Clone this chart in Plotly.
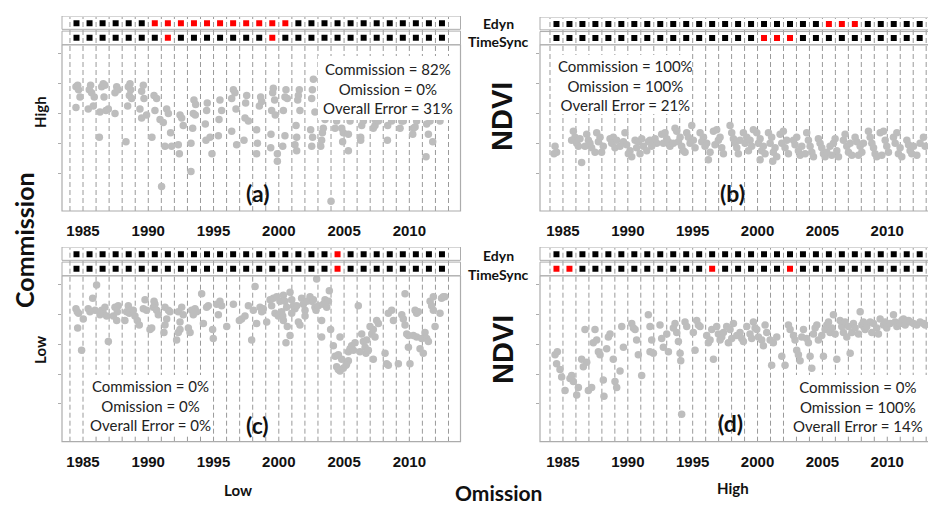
import plotly.graph_objects as go

# ---------------- data ----------------
YEARS = list(range(1984, 2014))          # year boundaries (dashed lines)
STRIP_YEARS = list(range(1984, 2013))    # annual detection boxes
TICK_YEARS = [1985, 1990, 1995, 2000, 2005, 2010]
NDVI_TICKS = [0.0, 0.2, 0.4, 0.6, 0.8]

A_YEAR = [1984.46,1984.59,1984.66,1984.77,1984.46,1985.58,1985.48,1985.66,1985.86,1985.40,1985.79,1986.25,1986.55,1986.43,1986.68,1986.61,1986.30,1986.76,1986.94,1987.58,1987.45,1987.70,1987.45,1988.60,1988.47,1988.65,1988.55,1988.73,1988.42,1988.29,1989.62,1989.49,1989.67,1989.36,1989.87,1989.49,1990.44,1990.64,1990.51,1990.28,1991.41,1991.54,1990.90,1991.15,1991.71,1991.28,1991.79,1991.02,1992.43,1992.56,1992.68,1992.30,1992.38,1993.50,1993.63,1993.45,1993.60,1993.40,1993.27,1993.27,1994.52,1994.47,1994.37,1994.73,1994.42,1994.88,1995.49,1995.62,1995.42,1995.37,1996.52,1996.64,1996.39,1996.72,1996.39,1996.77,1997.54,1997.46,1997.41,1997.67,1997.33,1998.61,1998.69,1998.51,1998.30,1998.36,1998.30,1999.58,1999.53,1999.68,1999.45,1999.73,1999.40,1999.38,2000.55,2000.47,2000.65,2000.35,2000.47,2000.30,1999.89,1999.89,2001.57,2001.50,2001.45,2001.62,2001.32,2001.37,2001.24,2001.37,2002.65,2002.57,2002.52,2002.77,2002.44,2002.59,2002.52,2003.54,2003.41,2003.34,2003.28,2003.21,2004.43,2004.31,2004.82,2004.94,2004.89,2005.33,2005.33,2006.35,2006.27,2006.27,2007.37,2007.24,2007.37,2008.34,2008.32,2009.42,2009.29,2010.31,2010.26,2010.44,2011.33,2011.46,2011.28,2011.79,2012.35,2004.00,2005.46,2006.48,2007.63,2008.65,2009.54,2010.56,2011.59]
A_NDVI = [0.58,0.59,0.56,0.51,0.44,0.59,0.56,0.54,0.51,0.43,0.45,0.24,0.60,0.58,0.59,0.51,0.41,0.42,0.43,0.58,0.54,0.56,0.40,0.60,0.58,0.56,0.52,0.50,0.45,0.21,0.59,0.55,0.50,0.43,0.39,0.37,0.52,0.50,0.42,0.24,0.43,0.40,0.36,0.34,0.27,0.18,0.18,-0.09,0.39,0.37,0.32,0.19,0.13,0.49,0.46,0.40,0.39,0.30,0.20,0.01,0.47,0.42,0.33,0.24,0.22,0.13,0.49,0.42,0.36,0.25,0.56,0.54,0.50,0.43,0.28,0.19,0.52,0.47,0.37,0.35,0.22,0.51,0.48,0.45,0.29,0.20,0.13,0.57,0.54,0.49,0.42,0.39,0.26,0.17,0.56,0.51,0.50,0.42,0.25,0.18,0.13,0.08,0.56,0.52,0.49,0.42,0.32,0.24,0.19,0.15,0.63,0.56,0.50,0.41,0.29,0.24,0.18,0.36,0.30,0.27,0.22,0.18,0.35,0.30,0.30,0.27,0.21,0.26,0.15,0.32,0.24,0.22,0.36,0.30,0.32,0.32,0.22,0.35,0.30,0.30,0.26,0.31,0.33,0.26,0.11,0.21,0.35,-0.19,0.35,0.35,0.35,0.35,0.35,0.35,0.35]

B_YEAR = [1984.39,1984.51,1984.31,1985.80,1985.93,1985.67,1986.06,1986.31,1986.44,1986.19,1986.83,1986.96,1987.08,1986.70,1987.21,1987.60,1987.86,1987.73,1988.11,1987.98,1987.47,1988.63,1988.88,1988.76,1989.14,1989.01,1989.40,1989.78,1989.66,1989.91,1990.17,1990.30,1990.04,1990.56,1990.81,1991.07,1990.68,1991.20,1990.94,1991.58,1991.71,1992.10,1992.23,1991.84,1991.46,1992.61,1992.87,1993.00,1992.74,1993.13,1993.25,1993.64,1993.77,1994.03,1993.90,1993.51,1994.15,1994.28,1994.54,1994.67,1994.93,1995.05,1994.80,1995.18,1994.41,1995.57,1995.83,1995.70,1995.95,1996.08,1996.21,1996.34,1996.60,1996.85,1996.98,1997.11,1996.72,1997.24,1997.37,1997.88,1998.01,1998.14,1998.27,1998.40,1998.65,1998.52,1998.91,1999.17,1999.04,1999.42,1999.30,1999.55,1999.68,1999.94,2000.20,2000.07,2000.32,2000.45,2000.20,2000.58,2000.84,2001.09,2000.97,2001.35,2001.22,2001.48,2001.17,2001.74,2001.99,2001.87,2002.12,2002.25,2002.38,2002.77,2003.02,2002.89,2003.15,2003.28,2003.41,2003.79,2003.92,2004.05,2004.18,2004.31,2003.67,2004.69,2004.82,2004.95,2005.08,2005.21,2005.34,2005.59,2005.85,2005.98,2006.11,2005.72,2006.24,2006.62,2006.75,2006.88,2007.01,2007.14,2007.27,2007.52,2007.65,2007.91,2008.04,2007.78,2008.16,2008.55,2008.68,2008.81,2008.94,2009.06,2009.19,2009.45,2009.71,2009.84,2009.96,2010.09,2009.58,2010.48,2010.74,2010.61,2010.99,2010.86,2011.12,2011.51,2011.64,2011.76,2011.89,2012.02,2012.28,2012.53,2012.79,2012.92]
B_NDVI = [0.18,0.14,0.13,0.28,0.24,0.22,0.20,0.23,0.07,0.18,0.26,0.22,0.20,0.18,0.17,0.27,0.24,0.21,0.18,0.14,0.14,0.23,0.24,0.20,0.22,0.17,0.18,0.27,0.21,0.19,0.15,0.11,0.13,0.22,0.21,0.23,0.17,0.18,0.13,0.21,0.22,0.23,0.20,0.18,0.15,0.26,0.27,0.23,0.20,0.21,0.18,0.30,0.28,0.24,0.21,0.20,0.18,0.15,0.27,0.24,0.32,0.22,0.20,0.17,0.14,0.27,0.24,0.21,0.18,0.20,0.09,0.14,0.28,0.29,0.22,0.24,0.19,0.17,0.13,0.32,0.27,0.23,0.20,0.17,0.22,0.13,0.27,0.24,0.20,0.22,0.15,0.18,0.29,0.27,0.23,0.20,0.15,0.18,0.09,0.13,0.27,0.24,0.20,0.17,0.14,0.11,0.08,0.26,0.28,0.20,0.17,0.22,0.13,0.22,0.24,0.19,0.15,0.12,0.18,0.27,0.22,0.18,0.14,0.11,0.13,0.23,0.20,0.17,0.13,0.11,0.14,0.18,0.20,0.23,0.15,0.12,0.11,0.22,0.26,0.18,0.14,0.20,0.12,0.24,0.21,0.18,0.14,0.12,0.20,0.28,0.24,0.20,0.17,0.13,0.11,0.27,0.28,0.22,0.18,0.14,0.12,0.24,0.27,0.20,0.17,0.13,0.11,0.22,0.19,0.15,0.13,0.18,0.12,0.20,0.24,0.18]

C_YEAR = [1984.46,1984.56,1984.66,1984.59,1984.89,1985.02,1985.40,1985.74,1985.92,1986.04,1985.53,1986.43,1986.55,1986.68,1986.30,1986.94,1986.81,1987.45,1987.32,1987.58,1987.70,1987.63,1988.47,1988.34,1988.65,1988.55,1988.21,1988.98,1989.16,1988.85,1989.31,1989.75,1989.62,1989.87,1990.13,1990.26,1990.39,1990.51,1990.64,1990.77,1990.44,1991.28,1991.54,1991.41,1991.28,1991.20,1991.66,1992.30,1992.56,1992.68,1992.43,1992.17,1992.43,1992.30,1993.32,1993.58,1993.71,1993.20,1993.07,1993.45,1994.09,1994.22,1994.47,1994.60,1994.98,1994.93,1995.24,1995.49,1995.62,1995.37,1996.01,1996.52,1996.98,1997.15,1997.41,1997.92,1998.18,1998.05,1998.30,1997.67,1998.56,1998.81,1998.69,1999.07,1999.33,1999.58,1999.84,1999.45,1999.71,1999.96,2000.09,2000.35,2000.47,2000.60,2000.22,2000.35,2000.65,2000.55,2000.30,2000.86,2000.99,2001.11,2001.24,2000.99,2001.50,2001.37,2000.86,2001.75,2001.88,2002.14,2002.01,2001.62,2002.01,2002.39,2002.52,2002.65,2002.77,2002.90,2002.85,2003.03,2003.28,2003.41,2003.54,2003.80,2003.87,2003.67,2003.28,2003.97,2004.18,2004.31,2004.43,2004.56,2004.69,2004.56,2004.82,2004.69,2005.33,2005.46,2005.58,2005.71,2005.20,2005.33,2005.84,2004.94,2005.15,2006.35,2006.48,2006.61,2006.73,2006.68,2006.86,2006.22,2006.09,2006.99,2007.12,2007.24,2007.50,2007.63,2007.37,2007.24,2008.14,2008.26,2008.39,2008.39,2008.65,2008.78,2009.16,2009.42,2009.54,2009.67,2009.80,2009.93,2010.05,2009.93,2009.67,2010.44,2010.56,2010.69,2010.56,2010.82,2010.95,2010.31,2011.20,2011.33,2011.46,2011.59,2011.71,2011.84,2011.97,2011.07,2011.84,2012.47,2012.60,2012.72,2012.35]
C_NDVI = [0.64,0.62,0.61,0.51,0.36,0.57,0.64,0.71,0.63,0.80,0.62,0.63,0.61,0.65,0.60,0.42,0.59,0.65,0.59,0.56,0.66,0.62,0.66,0.62,0.63,0.61,0.56,0.59,0.56,0.63,0.53,0.70,0.64,0.63,0.50,0.51,0.65,0.67,0.63,0.60,0.69,0.65,0.63,0.57,0.53,0.48,0.62,0.62,0.65,0.60,0.55,0.43,0.50,0.48,0.63,0.64,0.62,0.48,0.51,0.60,0.74,0.54,0.65,0.66,0.44,0.50,0.67,0.69,0.66,0.60,0.52,0.67,0.56,0.57,0.59,0.43,0.79,0.63,0.54,0.66,0.65,0.64,0.62,0.55,0.70,0.71,0.72,0.66,0.61,0.59,0.69,0.73,0.69,0.65,0.62,0.56,0.52,0.41,0.59,0.75,0.70,0.66,0.64,0.61,0.55,0.66,0.46,0.71,0.67,0.69,0.63,0.53,0.59,0.72,0.69,0.70,0.65,0.84,0.63,0.66,0.56,0.67,0.70,0.69,0.76,0.65,0.45,0.50,0.39,0.32,0.25,0.23,0.22,0.33,0.30,0.45,0.35,0.37,0.39,0.36,0.27,0.29,0.41,0.24,0.26,0.47,0.42,0.38,0.43,0.34,0.36,0.35,0.66,0.52,0.47,0.50,0.56,0.54,0.45,0.30,0.34,0.27,0.26,0.61,0.63,0.56,0.27,0.60,0.57,0.53,0.47,0.46,0.27,0.38,0.74,0.63,0.61,0.62,0.45,0.37,0.44,0.46,0.48,0.44,0.42,0.69,0.66,0.63,0.52,0.34,0.72,0.71,0.72,0.72,0.61]

D_YEAR = [1984.39,1984.57,1984.51,1984.77,1984.90,1985.16,1985.54,1985.67,1985.80,1986.06,1986.19,1986.44,1986.57,1986.70,1986.83,1986.96,1987.21,1987.47,1987.60,1987.34,1987.73,1987.86,1988.11,1988.16,1988.37,1988.50,1988.63,1988.88,1989.01,1989.14,1989.40,1989.53,1989.66,1990.30,1990.43,1990.68,1990.81,1990.56,1991.07,1991.58,1991.71,1991.84,1991.71,1991.97,1992.48,1992.61,1992.74,1993.00,1993.13,1993.51,1993.64,1993.77,1993.90,1994.03,1994.08,1994.15,1994.41,1994.54,1995.05,1995.31,1995.44,1995.18,1995.57,1996.08,1996.21,1996.34,1996.47,1996.60,1996.85,1996.98,1997.11,1997.24,1997.37,1997.62,1997.75,1997.88,1998.01,1998.14,1998.40,1998.65,1998.78,1998.91,1999.17,1999.42,1999.55,1999.68,1999.81,1999.94,2000.07,2000.32,2000.45,2000.58,2000.71,2000.97,2001.09,2001.22,2001.48,2001.87,2002.12,2002.38,2002.51,2002.77,2002.89,2003.02,2003.15,2003.28,2003.41,2003.54,2003.79,2003.92,2004.18,2004.05,2004.31,2004.44,2004.57,2004.69,2005.08,2004.95,2005.21,2005.34,2005.47,2005.59,2005.72,2005.85,2005.98,2006.11,2006.36,2006.49,2006.62,2006.75,2006.88,2007.01,2007.14,2007.27,2007.39,2007.52,2007.78,2007.91,2008.04,2008.16,2008.29,2008.42,2008.68,2008.81,2008.94,2009.19,2009.32,2009.45,2009.71,2009.84,2009.96,2010.22,2010.48,2010.61,2010.74,2010.99,2011.12,2011.25,2011.38,2011.64,2011.76,2012.02,2012.28,2012.53,2012.79,2012.92]
D_NDVI = [0.33,0.35,0.27,0.23,0.18,0.09,0.17,0.19,0.15,0.06,0.11,0.30,0.25,0.50,0.28,0.09,0.11,0.50,0.43,0.41,0.35,0.33,0.16,0.05,0.37,0.45,0.47,0.30,0.15,0.11,0.22,0.52,0.38,0.54,0.51,0.43,0.33,0.50,0.19,0.60,0.52,0.43,0.35,0.34,0.53,0.44,0.38,0.47,0.35,0.51,0.54,0.48,0.42,0.34,0.29,-0.07,0.55,0.52,0.48,0.56,0.53,0.36,0.52,0.46,0.41,0.43,0.50,0.30,0.52,0.47,0.43,0.45,0.48,0.52,0.41,0.50,0.44,0.54,0.46,0.48,0.44,0.42,0.52,0.47,0.44,0.55,0.51,0.50,0.45,0.43,0.39,0.53,0.48,0.43,0.26,0.41,0.45,0.32,0.26,0.53,0.50,0.46,0.43,0.36,0.33,0.29,0.45,0.50,0.44,0.41,0.24,0.32,0.47,0.51,0.53,0.43,0.32,0.46,0.50,0.53,0.55,0.48,0.51,0.60,0.47,0.30,0.56,0.52,0.48,0.55,0.45,0.52,0.34,0.48,0.54,0.51,0.47,0.62,0.53,0.55,0.50,0.52,0.55,0.48,0.54,0.51,0.47,0.57,0.53,0.55,0.51,0.54,0.60,0.55,0.52,0.54,0.56,0.57,0.53,0.56,0.55,0.54,0.53,0.55,0.54,0.53]

# years flagged as disturbance (red boxes)
A_EDYN_RED = [1990, 1991, 1992, 1993, 1994, 1995, 1996, 1997, 1998, 1999, 2000]
A_TS_RED = [1991, 1999]
B_EDYN_RED = [2005, 2006, 2007]
B_TS_RED = [2000, 2001, 2002]
C_EDYN_RED = [2004]
C_TS_RED = [2004]
D_EDYN_RED = []
D_TS_RED = [1984, 1985, 1996, 2002]

A_STATS = ["Commission = 82%", "Omission = 0%", "Overall Error = 31%"]
B_STATS = ["Commission = 100%", "Omission = 100%", "Overall Error = 21%"]
C_STATS = ["Commission = 0%", "Omission = 0%", "Overall Error = 0%"]
D_STATS = ["Commission = 0%", "Omission = 100%", "Overall Error = 14%"]

for a, b in [(A_YEAR, A_NDVI), (B_YEAR, B_NDVI), (C_YEAR, C_NDVI), (D_YEAR, D_NDVI)]:
    assert len(a) == len(b), (len(a), len(b))

# ---------------- layout helpers ----------------
W, H = 928, 506
def px(x):
    return x / W
def py(y):
    return 1 - y / H

DOT = '#bdbdbd'
FRAME = '#acacac'
DASH = '#9a9a9a'
TXT = 'Lato'
NUM = 'Liberation Sans'

panels = [
    dict(year=A_YEAR, ndvi=A_NDVI, edyn=A_EDYN_RED, ts=A_TS_RED, stats=A_STATS, tag='(a)',
         x0=62, x1=460.5, rng=[1983.39, 2013.92], top=16, mtop=45, bot=211,
         tag_xy=(257, 193), stats_xy=(388, 88), box=(318, 460.5, 56, 120)),
    dict(year=B_YEAR, ndvi=B_NDVI, edyn=B_EDYN_RED, ts=B_TS_RED, stats=B_STATS, tag='(b)',
         x0=540, x1=928, rng=[1983.23, 2013.14], top=17, mtop=45, bot=211,
         tag_xy=(732, 193), stats_xy=(625, 85), box=(560, 692, 55, 114)),
    dict(year=C_YEAR, ndvi=C_NDVI, edyn=C_EDYN_RED, ts=C_TS_RED, stats=C_STATS, tag='(c)',
         x0=62, x1=460.5, rng=[1983.39, 2013.92], top=247, mtop=276, bot=441.7,
         tag_xy=(257, 425), stats_xy=(150, 405), box=(88, 212, 375, 434)),
    dict(year=D_YEAR, ndvi=D_NDVI, edyn=D_EDYN_RED, ts=D_TS_RED, stats=D_STATS, tag='(d)',
         x0=540, x1=928, rng=[1983.23, 2013.14], top=247, mtop=276, bot=441.7,
         tag_xy=(730, 423), stats_xy=(858, 406), box=(795, 930, 375, 436)),
]

fig = go.Figure()
shapes = []
annotations = []
layout_axes = {}

for i, p in enumerate(panels):
    n = i + 1
    xa = 'x' if n == 1 else f'x{n}'
    ya = 'y' if n == 1 else f'y{n}'
    ys = f'y{n + 4}'
    xkey = 'xaxis' if n == 1 else f'xaxis{n}'
    ykey = 'yaxis' if n == 1 else f'yaxis{n}'
    yskey = f'yaxis{n + 4}'

    layout_axes[xkey] = dict(
        domain=[px(p['x0']), min(1.0, px(p['x1']))], range=p['rng'], anchor=ya,
        tickmode='array', tickvals=TICK_YEARS, showgrid=False, zeroline=False,
        showline=False, ticks='', ticklabelstandoff=9,
        tickfont=dict(family=NUM, size=15, color='#111', weight='bold'))
    layout_axes[ykey] = dict(
        domain=[py(p['bot']), py(p['mtop'])], range=[-0.255, 0.86], anchor=xa,
        tickmode='array', tickvals=NDVI_TICKS, showticklabels=False, showgrid=False,
        zeroline=False, showline=False, ticks='outside', ticklen=3, tickcolor=FRAME)
    layout_axes[yskey] = dict(
        domain=[py(p['mtop']), py(p['top'])], range=[-0.5, 1.5], anchor=xa,
        visible=False, showgrid=False, zeroline=False)

    # NDVI observations
    fig.add_trace(go.Scatter(
        x=p['year'], y=p['ndvi'], xaxis=xa, yaxis=ya, mode='markers',
        marker=dict(size=7.5, color=DOT, line=dict(width=0)), hoverinfo='skip'))

    # detection strips (Edyn row = 1, TimeSync row = 0)
    for row, red in [(1, p['edyn']), (0, p['ts'])]:
        fig.add_trace(go.Scatter(
            x=[yr + 0.5 for yr in STRIP_YEARS], y=[row] * len(STRIP_YEARS),
            xaxis=xa, yaxis=ys, mode='markers',
            marker=dict(symbol='square', size=6,
                        color=['#ff0000' if yr in red else '#000000' for yr in STRIP_YEARS],
                        line=dict(width=0)),
            hoverinfo='skip'))

    # dashed year lines through the whole panel
    for yr in YEARS:
        shapes.append(dict(type='line', xref=xa, yref='paper', x0=yr, x1=yr,
                           y0=py(p['bot']), y1=py(p['top']) - 0.002,
                           line=dict(color=DASH, width=1, dash='5px,3px'), layer='below'))

    # white box behind the statistics
    bx0, bx1, by0, by1 = p['box']
    shapes.append(dict(type='rect', xref='paper', yref='paper',
                       x0=px(bx0), x1=px(bx1), y0=py(by1), y1=py(by0),
                       fillcolor='white', line=dict(width=0), layer='above'))

    # frames
    xdom = f'{xa} domain'
    right = 1.0 if p['x1'] < W else 1.05
    shapes.append(dict(type='rect', xref=xdom, yref=f'{ya} domain', x0=0, x1=right, y0=0, y1=1,
                       line=dict(color=FRAME, width=1.2), layer='above'))
    shapes.append(dict(type='rect', xref=xdom, yref=ys, x0=0, x1=right, y0=-0.48, y1=0.46,
                       line=dict(color=FRAME, width=1), layer='above'))
    shapes.append(dict(type='rect', xref=xdom, yref=ys, x0=0, x1=right, y0=0.58, y1=1.5,
                       line=dict(color=FRAME, width=1), layer='above'))

    # texts
    sx, sy = p['stats_xy']
    annotations.append(dict(text='<br>'.join(p['stats']), x=px(sx), y=py(sy), xref='paper',
                            yref='paper', showarrow=False, align='center',
                            xanchor='center', yanchor='middle',
                            font=dict(family=TXT, size=15, color='#222')))
    tx, ty = p['tag_xy']
    annotations.append(dict(text=p['tag'], x=px(tx), y=py(ty), xref='paper', yref='paper',
                            showarrow=False, xanchor='center', yanchor='middle',
                            font=dict(family=TXT, size=23, color='#111', weight='bold')))

def lab(text, x, y, size, angle=0, family=TXT):
    annotations.append(dict(text=text, x=px(x), y=py(y), xref='paper', yref='paper',
                            showarrow=False, xanchor='center', yanchor='middle', textangle=angle,
                            font=dict(family=family, size=size, color='#111', weight='bold')))

for ty in (0, 232):
    lab('Edyn', 498, 24 + ty, 14)
    lab('TimeSync', 498, 42 + ty, 14)
lab('NDVI', 502, 117, 29, -90, NUM)
lab('NDVI', 503, 350, 29, -90, NUM)
lab('High', 40, 112, 15, -90)
lab('Low', 40, 350, 15, -90)
lab('Commission', 24, 240, 25, -90)
lab('Low', 238, 490, 15)
lab('High', 733, 488, 15)
lab('Omission', 498, 492, 21)

fig.update_layout(
    width=W, height=H, margin=dict(l=0, r=0, t=0, b=0),
    paper_bgcolor='white', plot_bgcolor='white', showlegend=False,
    shapes=shapes, annotations=annotations, **layout_axes)

fig.write_html('out.html')
